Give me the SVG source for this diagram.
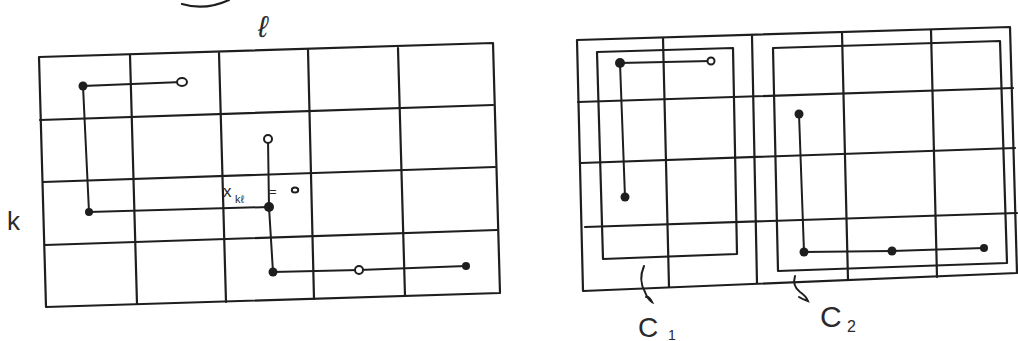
<svg xmlns="http://www.w3.org/2000/svg" width="1018" height="341" viewBox="0 0 1018 341">
<style>
.g{fill:none;stroke:#1e1e1e;stroke-width:2.2;stroke-linecap:round;stroke-linejoin:round}
.p{fill:none;stroke:#1e1e1e;stroke-width:2;stroke-linecap:round}
.f{fill:#1e1e1e}
.o{fill:#fff;stroke:#1e1e1e;stroke-width:2}
.t{font-family:"Liberation Sans",Arial,sans-serif;fill:#2a2a2a}
</style>
<rect width="1018" height="341" fill="#fff"/>
<path class="g" d="M182,4 Q205,11 229,0"/>
<g id="left-grid">
<polygon class="g" points="39,57 493,43 500,293 46,307"/>
<line class="g" x1="130" y1="55" x2="137" y2="304"/>
<line class="g" x1="219" y1="53" x2="226" y2="302"/>
<line class="g" x1="308" y1="50" x2="314" y2="299"/>
<line class="g" x1="398" y1="48" x2="405" y2="296"/>
<line class="g" x1="40" y1="120" x2="493" y2="105"/>
<line class="g" x1="43" y1="182" x2="495" y2="167"/>
<line class="g" x1="45" y1="245" x2="497" y2="230"/>
</g>
<g id="connectors">
<polyline class="p" points="182,82 83,86 89,212 269,207"/>
<polyline class="p" points="268,139 269,207 273,272 359,270 466,266"/>
<polyline class="p" points="711,61 620,63 625,197"/>
<polyline class="p" points="799,114 804,252 892,251 984,248"/>
</g>
<g id="left-points">
<circle class="f" cx="83" cy="86" r="4.5"/>
<ellipse class="o" cx="182" cy="82" rx="5" ry="4"/>
<circle class="f" cx="89" cy="212" r="4"/>
<circle class="f" cx="269" cy="207" r="5"/>
<ellipse class="o" cx="268" cy="139" rx="4" ry="4"/>
<circle class="f" cx="273" cy="272" r="4.5"/>
<ellipse class="o" cx="359" cy="270" rx="4" ry="4"/>
<circle class="f" cx="466" cy="266" r="4"/>
</g>
<g id="left-labels">
<text class="t" x="258" y="37" font-size="30" font-style="italic" font-family="Liberation Serif,serif">ℓ</text>
<text class="t" x="7" y="230" font-size="26">k</text>
<text class="t" x="223" y="197" font-size="17">x</text>
<text class="t" x="235" y="203" font-size="11">kℓ</text>
<text class="t" x="269" y="196" font-size="13">=</text>
<ellipse class="o" cx="295" cy="190" rx="3.2" ry="2.6" stroke-width="1.6"/>
</g>
<g id="right-grid">
<polygon class="g" points="577,40 1010,27 1017,273 583,291"/>
<line class="g" x1="663" y1="38" x2="669" y2="287"/>
<line class="g" x1="752" y1="36" x2="757" y2="283"/>
<line class="g" x1="842" y1="33" x2="848" y2="280"/>
<line class="g" x1="931" y1="30" x2="937" y2="277"/>
<line class="g" x1="578" y1="102" x2="1013" y2="88"/>
<line class="g" x1="581" y1="163" x2="1015" y2="148"/>
<line class="g" x1="585" y1="227" x2="1017" y2="213"/>
</g>
<g id="C1">
<polygon class="g" points="597,52 733,48 737,254 603,259"/>
<circle class="f" cx="620" cy="63" r="5"/>
<circle class="o" cx="711" cy="61" r="3.5"/>
<circle class="f" cx="625" cy="197" r="4.5"/>
<path class="p" d="M644,266 Q638,280 645,292 Q648,300 652,302 Q649,296 646,297"/>
<text class="t" x="638" y="337" font-size="28">C</text>
<text class="t" x="668" y="340" font-size="14">1</text>
</g>
<g id="C2">
<polygon class="g" points="773,48 1000,41 1007,263 778,271"/>
<circle class="f" cx="799" cy="114" r="4.5"/>
<circle class="f" cx="804" cy="252" r="4.5"/>
<circle class="f" cx="892" cy="251" r="4.5"/>
<circle class="f" cx="984" cy="248" r="4"/>
<path class="p" d="M795,276 Q792,286 800,292 Q806,296 808,301 Q802,299 799,297"/>
<text class="t" x="820" y="327" font-size="30">C</text>
<text class="t" x="847" y="332" font-size="16">2</text>
</g>
</svg>
